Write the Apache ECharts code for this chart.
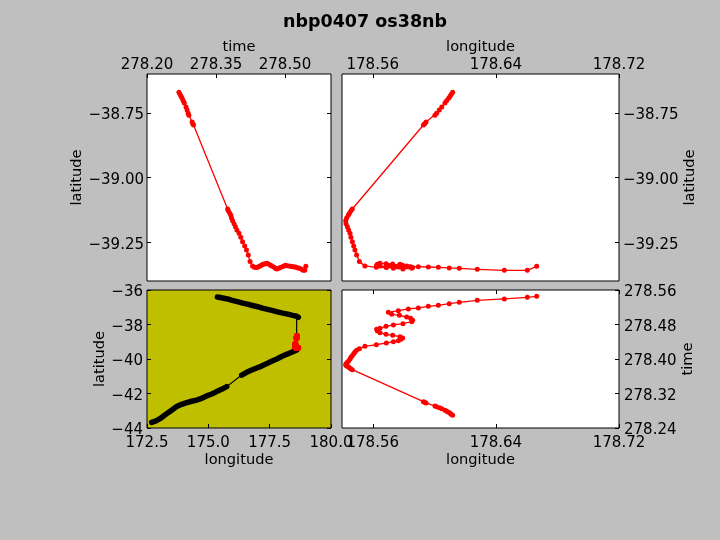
<!DOCTYPE html>
<html><head><meta charset="utf-8">
<style>html,body{margin:0;padding:0;background:#bfbfbf}#c{width:720px;height:540px}</style>
<script src="https://cdn.jsdelivr.net/npm/echarts@6/dist/echarts.min.js"></script>
</head><body><div id="c"></div>
<script>
const title = "nbp0407 os38nb";
const lon = [178.6119,178.6110,178.6102,178.6093,178.6080,178.6069,178.6048,178.6032,178.6015,178.6004,178.5946,178.5937,178.5929,178.5467,178.5458,178.5448,178.5441,178.5430,178.5424,178.5426,178.5435,178.5443,178.5452,178.5458,178.5467,178.5476,178.5484,178.5495,178.5513,178.5549,178.5623,178.5688,178.5734,178.5766,178.5783,178.5794,178.5777,178.5729,178.5686,178.5647,178.5630,178.5625,178.5647,178.5686,178.5734,178.5796,178.5853,178.5859,178.5846,178.5820,178.5773,178.5723,178.5701,178.5766,178.5831,178.5896,178.5961,178.6026,178.6097,178.6162,178.6279,178.6455,178.6604,178.6665];
const time = [278.2694,278.2717,278.2740,278.2763,278.2787,278.2810,278.2848,278.2872,278.2895,278.2910,278.2980,278.2995,278.3011,278.3753,278.3768,278.3799,278.3822,278.3838,278.3861,278.3892,278.3923,278.3954,278.4000,278.4039,278.4077,278.4124,278.4162,278.4201,278.4240,278.4294,278.4333,278.4371,278.4402,278.4425,278.4456,278.4487,278.4518,278.4549,278.4572,278.4611,278.4649,278.4688,278.4711,278.4758,278.4789,278.4819,278.4866,278.4897,278.4943,278.4974,278.5013,278.5036,278.5082,278.5121,278.5160,278.5183,278.5221,278.5245,278.5283,278.5314,278.5361,278.5392,278.5430,278.5453];
const lat = [-38.6708,-38.6786,-38.6863,-38.6940,-38.7030,-38.7121,-38.7275,-38.7391,-38.7520,-38.7597,-38.7855,-38.7919,-38.7971,-39.1216,-39.1281,-39.1384,-39.1461,-39.1564,-39.1667,-39.1783,-39.1899,-39.2028,-39.2157,-39.2311,-39.2479,-39.2646,-39.2801,-39.2994,-39.3251,-39.3419,-39.3470,-39.3483,-39.3470,-39.3445,-39.3419,-39.3393,-39.3354,-39.3342,-39.3329,-39.3316,-39.3354,-39.3393,-39.3419,-39.3458,-39.3509,-39.3535,-39.3509,-39.3483,-39.3445,-39.3419,-39.3393,-39.3406,-39.3419,-39.3432,-39.3445,-39.3445,-39.3458,-39.3470,-39.3496,-39.3509,-39.3548,-39.3586,-39.3586,-39.3432];
// Full-cruise track; null marks a gap between dense runs of samples.
const trackLon = [175.37,175.58,175.78,175.97,176.18,176.40,176.59,176.80,177.01,177.20,177.41,177.63,177.82,178.03,178.24,178.44,178.60,178.67,null,178.60,178.40,178.19,177.99,177.79,177.58,177.38,177.17,176.97,176.77,176.56,176.36,null,175.75,175.54,175.34,175.14,174.93,174.73,174.52,174.32,174.12,173.91,173.71,173.53,173.36,173.19,173.03,172.87,172.69];
const trackLat = [-36.41,-36.46,-36.52,-36.60,-36.67,-36.76,-36.82,-36.90,-36.97,-37.05,-37.12,-37.20,-37.27,-37.34,-37.40,-37.47,-37.52,-37.58,null,-39.48,-39.61,-39.73,-39.86,-40.00,-40.13,-40.27,-40.41,-40.52,-40.64,-40.77,-40.93,null,-41.60,-41.76,-41.89,-42.03,-42.14,-42.28,-42.38,-42.45,-42.53,-42.63,-42.76,-42.94,-43.11,-43.29,-43.46,-43.59,-43.67];
const timeTopTicks = [278.20,278.35,278.50];
const latTicks = [-38.75,-39.00,-39.25];
const lonTicks = [178.56,178.64,178.72];
const timeRightTicks = [278.24,278.32,278.40,278.48,278.56];
const lonWideTicks = [172.5,175.0,177.5,180.0];
const latWideTicks = [-36,-38,-40,-42,-44];

const FONT = "DejaVu Sans", FS = 15, NFS = 14.6;
const fmt = d => v => Number(v).toFixed(d).replace("-", "\u2212");
function axis(o) {
  const base = fmt(o.dec);
  const a = {
    type: "value", gridIndex: o.grid, position: o.pos, min: o.min, max: o.max,
    scale: true, splitLine: {show: false}, axisLine: {show: false, onZero: false},
    axisTick: {show: true, inside: true, length: 4, customValues: o.ticks, lineStyle: {color: "#000", width: 1}},
    axisLabel: {show: !!o.label, margin: o.margin, color: "#000", fontFamily: FONT, fontSize: FS,
      customValues: o.ticks, hideOverlap: false,
      formatter: o.shift ? (v => "{s|" + base(v) + "}") : base,
      rich: {s: {color: "#000", fontFamily: FONT, fontSize: FS, padding: [o.shift || 0, 0, 0, 0]}}}
  };
  if (o.name) Object.assign(a, {name: o.name, nameLocation: "middle", nameGap: o.gap,
    nameTextStyle: {color: "#000", fontFamily: FONT, fontSize: NFS}});
  return a;
}
const grids = [
  {left: 147, top: 74, width: 184, height: 207},
  {left: 342, top: 74, width: 277, height: 207},
  {left: 147, top: 290, width: 184, height: 138},
  {left: 342, top: 290, width: 277, height: 138}
].map((g, i) => Object.assign(g, {show: true, backgroundColor: i === 2 ? "#bfbf00" : "#fff", borderColor: "#000", borderWidth: 1, containLabel: false}));

const T = {min: 278.2, max: 278.6, ticks: timeTopTicks, dec: 2};
const LA = {min: -39.4, max: -38.6, ticks: latTicks, dec: 2};
const LO = {min: 178.54, max: 178.72, ticks: lonTicks, dec: 2};
const LW = {min: 172.5, max: 180, ticks: lonWideTicks, dec: 1};
const AW = {min: -44, max: -36, ticks: latWideTicks, dec: 0};
const TR = {min: 278.24, max: 278.56, ticks: timeRightTicks, dec: 2};
const SHIFT = 5;

const xAxis = [
  axis({...T, grid: 0, pos: "top", label: true, margin: 1, name: "time", gap: 19}),
  axis({...LO, grid: 1, pos: "top", label: true, margin: 1, name: "longitude", gap: 19}),
  axis({...LW, grid: 2, pos: "bottom", label: true, margin: 8, name: "longitude", gap: 25}),
  axis({...LO, grid: 3, pos: "bottom", label: true, margin: 8, name: "longitude", gap: 25}),
  axis({...LO, grid: 3, pos: "top"})
];
const yAxis = [
  axis({...LA, grid: 0, pos: "left", label: true, margin: 3, shift: SHIFT, name: "latitude", gap: 55}),
  axis({...LA, grid: 0, pos: "right"}),
  axis({...LA, grid: 1, pos: "right", label: true, margin: 4, shift: SHIFT, name: "latitude", gap: 63}),
  axis({...AW, grid: 2, pos: "left", label: true, margin: 4, shift: SHIFT, name: "latitude", gap: 34}),
  axis({...AW, grid: 2, pos: "right"}),
  axis({...TR, grid: 3, pos: "right", label: true, margin: 5, shift: SHIFT, name: "time", gap: 62})
];
const zip = (a, b) => a.map((v, i) => [v, b[i]]);
const line = (xi, yi, data, color, z, width, size) => ({type: "line", xAxisIndex: xi, yAxisIndex: yi, data, symbol: size ? "circle" : "none", symbolSize: size,
  showAllSymbol: true, silent: true, animation: false, z, clip: true, connectNulls: false,
  lineStyle: {color, width, cap: "round", join: "round"}, itemStyle: {color}});
const chart = echarts.init(document.getElementById("c"), null, {renderer: "canvas"});
chart.setOption({
  animation: false, backgroundColor: "#bfbfbf",
  title: {text: title, left: 360, textAlign: "center", top: 8, textStyle: {color: "#000", fontFamily: FONT, fontSize: 17.5, fontWeight: "bold"}},
  grid: grids, xAxis, yAxis,
  series: [
    line(0, 0, zip(time, lat), "#f00", 3, 1.3, 5),
    line(1, 2, zip(lon, lat), "#f00", 3, 1.3, 5),
    line(2, 3, zip(trackLon, trackLat).filter(p => p[0] !== null), "#000", 2, 1.2, 0),
    line(2, 3, zip(trackLon, trackLat).map(p => p[0] === null ? ["-", "-"] : p), "#000", 2, 5.5, 0),
    line(2, 3, zip(lon, lat), "#f00", 3, 1.3, 6),
    line(3, 5, zip(lon, time), "#f00", 3, 1.3, 5)
  ]
});
</script></body></html>
